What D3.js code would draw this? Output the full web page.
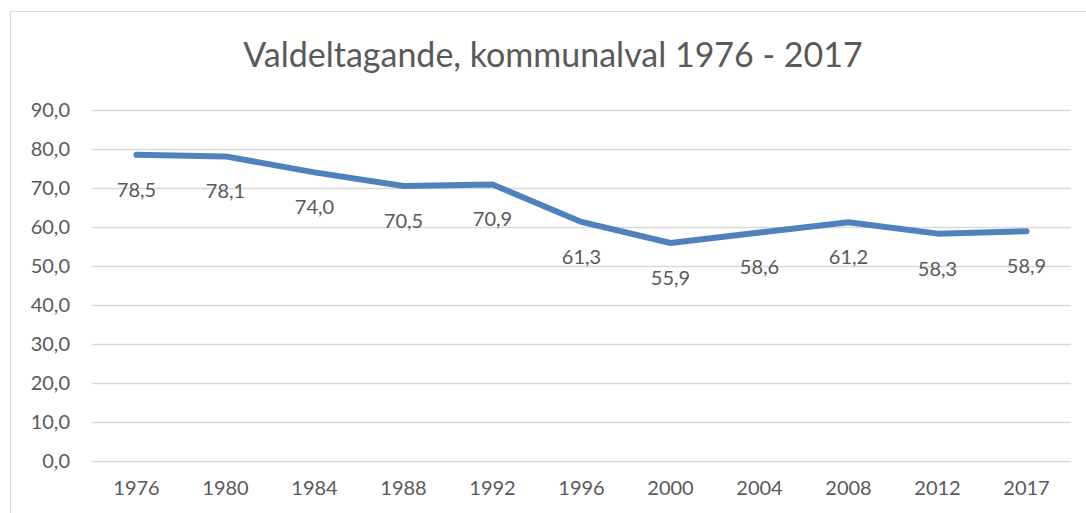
<!DOCTYPE html>
<html>
<head>
<meta charset="utf-8">
<script src="https://cdn.jsdelivr.net/npm/d3@7"></script>
<style>
body { margin: 0; background: #fff; }
text { font-family: Lato, "Open Sans", sans-serif; fill: #595959; }
</style>
</head>
<body>
<div id="chart-area"></div>
<script>
// valdeltagande per valår
var years = ["1976", "1980", "1984", "1988", "1992", "1996", "2000", "2004", "2008", "2012", "2017"];
var turnout = [78.5, 78.1, 74.0, 70.5, 70.9, 61.3, 55.9, 58.6, 61.2, 58.3, 58.9];
var yTicks = [0, 10, 20, 30, 40, 50, 60, 70, 80, 90];

var W = 1086, H = 513;
var margin = {top: 110, right: 15, bottom: 52, left: 92};
var width = 1071 - margin.left;
var height = 461 - margin.top;

var svg = d3.select("#chart-area").append("svg")
	.attr("width", W)
	.attr("height", H);

// chart frame
svg.append("rect")
	.attr("x", 10.5).attr("y", 11.5)
	.attr("width", W + 20).attr("height", H + 20)
	.attr("fill", "#fff")
	.attr("stroke", "#d9d9d9")
	.attr("stroke-width", 1);

svg.append("text")
	.attr("x", 553)
	.attr("y", 67)
	.attr("text-anchor", "middle")
	.attr("font-size", "34px")
	.text("Valdeltagande, kommunalval 1976 - 2017");

var group = svg.append("g")
	.attr("transform", "translate(" + margin.left + "," + margin.top + ")");

var x = d3.scaleBand()
	.domain(years)
	.range([0, width]);

var y = d3.scaleLinear()
	.domain([0, 90])
	.range([height, 0]);

var fmt = function(v) { return d3.format(".1f")(v).replace(".", ","); };

// gridlines
group.selectAll("line.grid").data(yTicks).enter()
	.append("line")
	.attr("class", "grid")
	.attr("x1", 0).attr("x2", width)
	.attr("y1", function(d) { return Math.round(y(d)) + 0.5; })
	.attr("y2", function(d) { return Math.round(y(d)) + 0.5; })
	.attr("stroke", "#d9d9d9")
	.attr("stroke-width", 1.5);

var leftAxis = d3.axisLeft(y)
	.tickValues(yTicks)
	.tickSize(0)
	.tickPadding(22)
	.tickFormat(fmt);
var gl = group.append("g").call(leftAxis);
gl.select(".domain").remove();
gl.selectAll("text").attr("font-size", "20px").attr("fill", "#595959");

var bottomAxis = d3.axisBottom(x).tickSize(0).tickPadding(20);
var gb = group.append("g")
	.attr("transform", "translate(0," + height + ")")
	.call(bottomAxis);
gb.select(".domain").remove();
gb.selectAll("text").attr("font-size", "20px").attr("fill", "#595959");

var line = d3.line()
	.x(function(d, i) { return x(years[i]) + x.bandwidth() / 2; })
	.y(function(d) { return y(d); });

group.append("path")
	.datum(turnout)
	.attr("d", line)
	.attr("fill", "none")
	.attr("stroke", "#4f81bd")
	.attr("stroke-width", 6)
	.attr("stroke-linecap", "round")
	.attr("stroke-linejoin", "round");

group.selectAll("text.lbl").data(turnout).enter()
	.append("text")
	.attr("class", "lbl")
	.attr("x", function(d, i) { return x(years[i]) + x.bandwidth() / 2; })
	.attr("y", function(d) { return y(d) + 42; })
	.attr("text-anchor", "middle")
	.attr("font-size", "20px")
	.text(fmt);
</script>
</body>
</html>
